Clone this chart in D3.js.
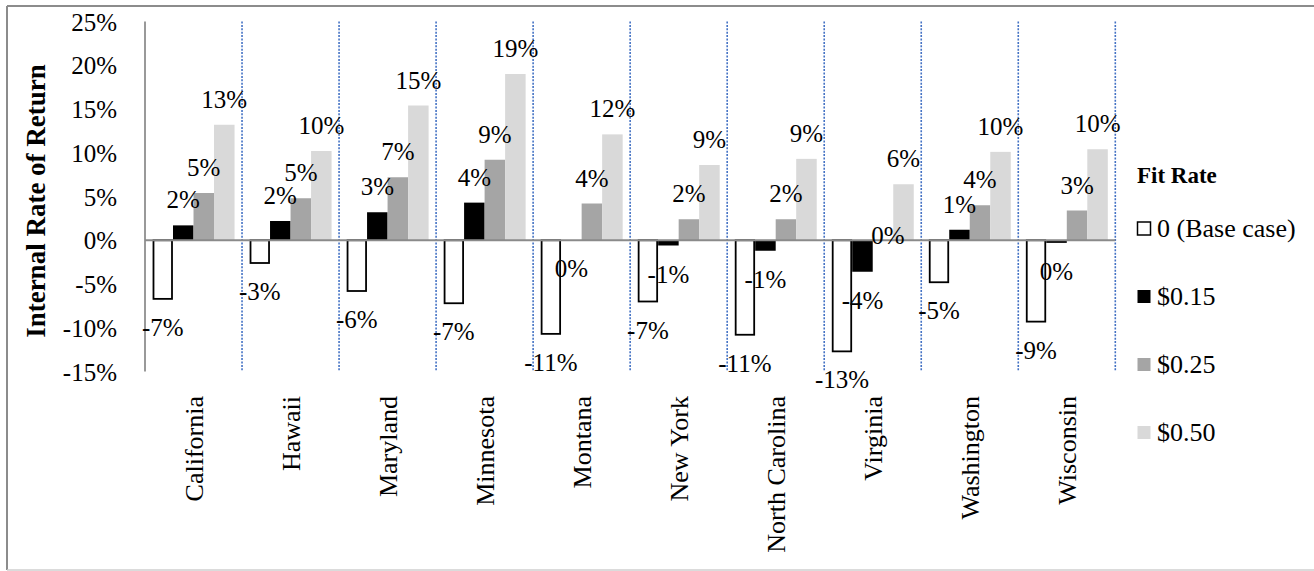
<!DOCTYPE html>
<html>
<head>
<meta charset="utf-8">
<script src="https://cdn.jsdelivr.net/npm/d3@7"></script>
<style>
  body { margin: 0; background: #fff; }
  svg { display: block; font-family: "Liberation Serif", "Times New Roman", serif; }
</style>
</head>
<body>
<svg width="1314" height="571"></svg>
<script>
// states on the x axis
var categories = ["California", "Hawaii", "Maryland", "Minnesota", "Montana",
                  "New York", "North Carolina", "Virginia", "Washington", "Wisconsin"];

// IRR in percent, one array per fit rate
var baseCase = [-6.7, -2.6, -5.8, -7.2, -10.7, -7.0, -10.8, -12.7, -4.8, -9.3];
var fit015   = [1.7, 2.2, 3.2, 4.3, -0.02, -0.6, -1.2, -3.6, 1.2, -0.3];
var fit025   = [5.4, 4.8, 7.2, 9.2, 4.2, 2.4, 2.4, 0, 4.0, 3.4];
var fit050   = [13.2, 10.2, 15.4, 19.0, 12.1, 8.6, 9.3, 6.4, 10.1, 10.4];

var seriesNames = ["0 (Base case)", "$0.15", "$0.25", "$0.50"];
var yTicks = [-15, -10, -5, 0, 5, 10, 15, 20, 25];

var seriesValues = [baseCase, fit015, fit025, fit050];
var fills   = ["#ffffff", "#000000", "#a5a5a5", "#d9d9d9"];
var strokes = ["#000000", "none", "none", "none"];

var svg = d3.select("svg");

// outer chart border
svg.append("line").attr("x1", 7).attr("x2", 1314).attr("y1", 6).attr("y2", 6)
  .attr("stroke", "#8c8c8c").attr("stroke-width", 2);
svg.append("line").attr("x1", 7).attr("x2", 7).attr("y1", 6).attr("y2", 570)
  .attr("stroke", "#8c8c8c").attr("stroke-width", 2);
svg.append("line").attr("x1", 7).attr("x2", 1314).attr("y1", 570).attr("y2", 570)
  .attr("stroke", "#cfcfcf").attr("stroke-width", 1.5);

var x0 = d3.scaleBand().domain(categories).range([145, 1115.3]).paddingInner(0).paddingOuter(0);
var x1 = d3.scaleBand().domain(d3.range(4)).range([0, x0.bandwidth()]).paddingInner(0).paddingOuter(0.365);
var y = d3.scaleLinear().domain([-15, 25]).range([371.5, 21.5]);

// y tick labels
svg.append("g").selectAll("text").data(yTicks).enter().append("text")
  .attr("x", 117).attr("y", function(d) { return y(d) + 9; })
  .attr("text-anchor", "end").attr("font-size", 25).attr("fill", "#000")
  .text(function(d) { return d + "%"; });

// dotted category separators
svg.append("g").selectAll("line").data(categories.slice(1).concat(["end"])).enter().append("line")
  .attr("x1", function(d, i) { return x0.range()[0] + x0.step() * (i + 1); })
  .attr("x2", function(d, i) { return x0.range()[0] + x0.step() * (i + 1); })
  .attr("y1", y(25)).attr("y2", y(-15))
  .attr("stroke", "#4472c4").attr("stroke-width", 1.6).attr("stroke-dasharray", "2,1.4");

// bars
var rows = [];
categories.forEach(function(c, ci) {
  seriesValues.forEach(function(vals, si) {
    rows.push({cat: c, s: si, v: vals[ci]});
  });
});

var bars = svg.append("g");
bars.selectAll("rect").data(rows).enter().append("rect")
  .attr("x", function(d) { return x0(d.cat) + x1(d.s) + (d.s === 0 ? 1 : 0); })
  .attr("width", function(d) { return x1.bandwidth() - (d.s === 0 ? 2 : 0); })
  .attr("y", function(d) { return y(Math.max(0, d.v)); })
  .attr("height", function(d) { return Math.abs(y(d.v) - y(0)); })
  .attr("fill", function(d) { return fills[d.s]; })
  .attr("stroke", function(d) { return strokes[d.s]; })
  .attr("stroke-width", 1.8);

// axes lines
svg.append("line").attr("x1", 145).attr("x2", 145).attr("y1", y(25)).attr("y2", y(-15))
  .attr("stroke", "#999").attr("stroke-width", 2);
svg.append("line").attr("x1", 145).attr("x2", 1115.3).attr("y1", y(0)).attr("y2", y(0))
  .attr("stroke", "#8a8a8a").attr("stroke-width", 2);

// data labels
svg.append("g").selectAll("text").data(rows).enter().append("text")
  .attr("x", function(d) { return x0(d.cat) + x1(d.s) + x1.bandwidth() / 2 + (d.v === 0 ? 5 : 0); })
  .attr("y", function(d) {
    if (d.v === 0) return y(0) + 4;
    return d.v > 0 ? y(d.v) - 17 : y(d.v) + 37;
  })
  .attr("text-anchor", "middle").attr("font-size", 25).attr("fill", "#000")
  .text(function(d) { var r = Math.round(d.v); return (r === 0 ? 0 : r) + "%"; });

// category labels
svg.append("g").selectAll("text").data(categories).enter().append("text")
  .attr("transform", function(d) { return "translate(" + (x0(d) + x0.bandwidth() / 2) + ",396) rotate(-90)"; })
  .attr("dy", "0.35em").attr("text-anchor", "end").attr("font-size", 26).attr("fill", "#000")
  .text(function(d) { return d; });

// y axis title
svg.append("text")
  .attr("transform", "translate(45,201) rotate(-90)")
  .attr("text-anchor", "middle").attr("font-size", 27).attr("font-weight", "bold")
  .text("Internal Rate of Return");

// legend
var lg = svg.append("g");
lg.append("text").attr("x", 1137).attr("y", 183).attr("font-size", 23).attr("font-weight", "bold")
  .text("Fit Rate");
var item = lg.selectAll("g.item").data(seriesNames).enter().append("g").attr("class", "item")
  .attr("transform", function(d, i) { return "translate(1137," + (237 + i * 68) + ")"; });
item.append("rect").attr("x", 0.5).attr("y", -15).attr("width", 13).attr("height", 13)
  .attr("fill", function(d, i) { return fills[i]; })
  .attr("stroke", function(d, i) { return strokes[i]; }).attr("stroke-width", 1.5);
item.append("text").attr("x", 20).attr("y", 0).attr("font-size", 26)
  .text(function(d) { return d; });
</script>
</body>
</html>
